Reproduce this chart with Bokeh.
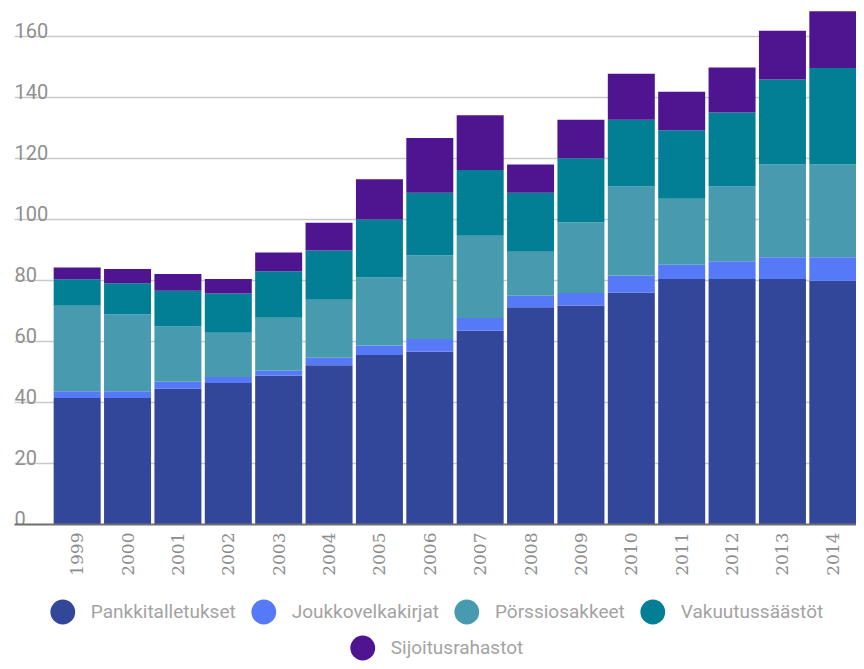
import math
import numpy as np
from bokeh.plotting import figure
from bokeh.layouts import column
from bokeh.models import ColumnDataSource, FixedTicker, Legend, LegendItem, Range1d
from bokeh.core.properties import value
from bokeh.embed import file_html
from bokeh.resources import INLINE

years = ["1999", "2000", "2001", "2002", "2003", "2004", "2005", "2006",
         "2007", "2008", "2009", "2010", "2011", "2012", "2013", "2014"]
pankkitalletukset = [41.5, 41.5, 44.5, 46.4, 48.8, 52.2, 55.6, 56.6,
                     63.5, 71.2, 71.8, 76.1, 80.5, 80.5, 80.5, 79.9]
joukkovelkakirjat = [2.2, 2.2, 2.3, 2.0, 1.6, 2.5, 3.1, 4.2,
                     4.2, 3.8, 4.1, 5.5, 4.7, 5.8, 7.1, 7.7]
porssiosakkeet = [28.0, 25.2, 18.1, 14.5, 17.4, 19.0, 22.3, 27.5,
                  27.0, 14.4, 23.2, 29.2, 21.6, 24.5, 30.5, 30.5]
vakuutussaastot = [8.7, 10.2, 11.7, 12.8, 15.2, 16.1, 19.0, 20.5,
                   21.5, 19.4, 21.0, 21.9, 22.5, 24.3, 27.8, 31.6]
sijoitusrahastot = [3.9, 4.7, 5.5, 4.8, 6.2, 9.1, 13.2, 17.9,
                    18.0, 9.2, 12.6, 15.1, 12.6, 14.7, 16.0, 18.6]

series_names = ["Pankkitalletukset", "Joukkovelkakirjat", "Pörssiosakkeet",
                "Vakuutussäästöt", "Sijoitusrahastot"]
series_keys = ["pankki", "joukko", "porssi", "vakuutus", "sijoitus"]
colors = ["#33479a", "#5679f8", "#489bae", "#037f95", "#4f1490"]
y_ticks = [0, 20, 40, 60, 80, 100, 120, 140, 160]

xs = list(range(len(years)))
src = ColumnDataSource(dict(x=xs, pankki=pankkitalletukset, joukko=joukkovelkakirjat,
                            porssi=porssiosakkeet, vakuutus=vakuutussaastot,
                            sijoitus=sijoitusrahastot))

x_start, x_end = -1.244, 15.47
p = figure(frame_width=842, frame_height=524,
           x_range=Range1d(x_start, x_end), y_range=Range1d(0, 171.8),
           output_backend="svg", toolbar_location=None, y_axis_location=None,
           min_border_left=14, min_border_right=0, min_border_top=0,
           min_border_bottom=0)
p.outline_line_color = None
p.background_fill_color = "white"

p.vbar_stack(series_keys, x="x", width=0.933, source=src,
             fill_color=colors, line_color=None)

# y labels drawn inside plot, above gridlines
lab_src = ColumnDataSource(dict(x=[x_start] * len(y_ticks), y=y_ticks,
                                text=[str(t) for t in y_ticks]))
p.text(x="x", y="y", text="text", source=lab_src, x_offset=0, y_offset=-6,
       text_font=value("Roboto"), text_font_size="20px",
       text_color="#909090", text_baseline="alphabetic", text_align="left")

p.xgrid.visible = False
p.ygrid.ticker = FixedTicker(ticks=y_ticks[1:])
p.ygrid.grid_line_color = "#c9c9c9"
p.ygrid.grid_line_width = 1.5

ax = p.xaxis[0]
ax.ticker = FixedTicker(ticks=xs)
ax.major_label_overrides = {i: yr for i, yr in enumerate(years)}
ax.major_label_orientation = math.pi / 2
ax.major_label_text_font = "DejaVu Serif"
ax.major_label_text_font_size = "17px"
ax.major_label_text_color = "#8c8c8c"
ax.axis_line_color = "#6e6e6e"
ax.axis_line_width = 2
ax.major_tick_line_color = None
ax.minor_tick_line_color = None
ax.major_label_standoff = 2

# legend in its own strip below the chart
lf = figure(frame_width=842, frame_height=86, x_range=Range1d(0, 1), y_range=Range1d(0, 1),
            output_backend="svg", toolbar_location=None,
            x_axis_location=None, y_axis_location=None,
            min_border_left=14, min_border_right=0, min_border_top=0, min_border_bottom=0)
lf.outline_line_color = None
lf.xgrid.visible = False
lf.ygrid.visible = False

dummies = [lf.ellipse(x=[np.nan], y=[np.nan], width=25, height=25,
                      width_units="screen", height_units="screen",
                      fill_color=c, line_color=None) for c in colors]

common = dict(orientation="horizontal", glyph_width=31,
              glyph_height=31, label_standoff=13, spacing=12, padding=0,
              border_line_color=None, background_fill_alpha=0,
              label_text_font="Roboto", label_text_font_size="19px",
              label_text_color="#a3a3a3")
leg1 = Legend(items=[LegendItem(label=series_names[i], renderers=[dummies[i]]) for i in range(4)],
              location="top", margin=18, **common)
leg2 = Legend(items=[LegendItem(label=series_names[4], renderers=[dummies[4]])],
              location="bottom", margin=1, **common)
lf.add_layout(leg1)
lf.add_layout(leg2)

open("out.html", "w").write(file_html(column(p, lf, spacing=0), INLINE))
